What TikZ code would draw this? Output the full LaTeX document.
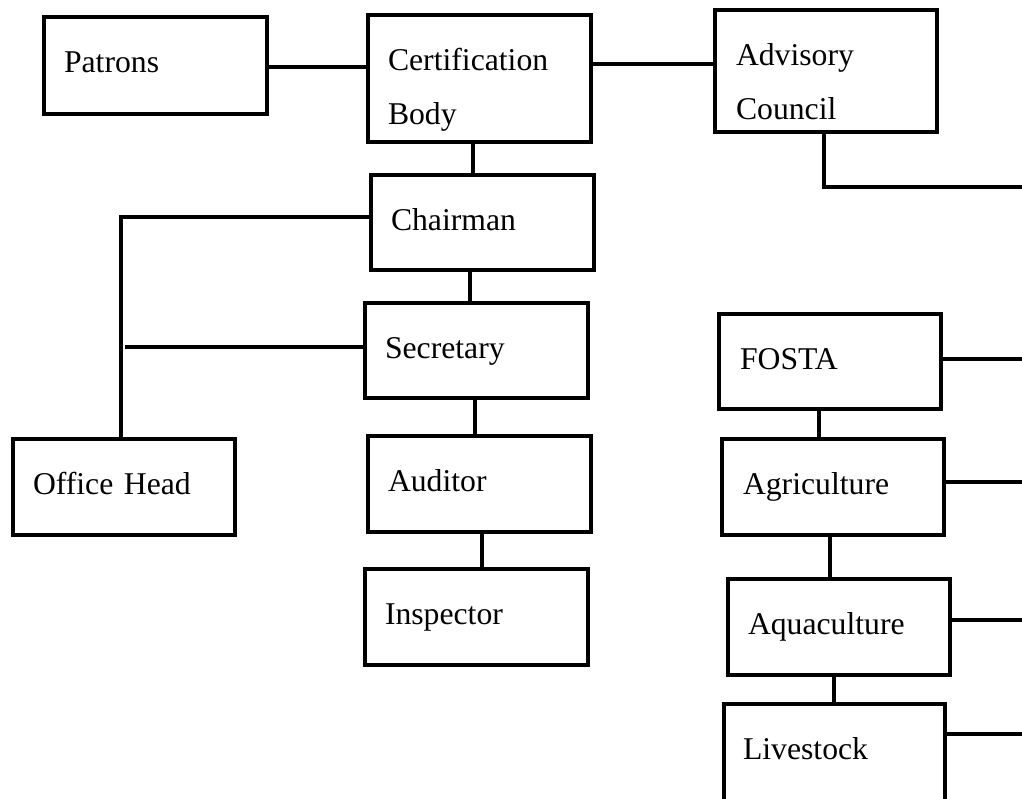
\documentclass[tikz,border=0pt]{standalone}
\usepackage{fontspec}
\setmainfont{Liberation Serif}
\usetikzlibrary{calc}

% one unit of the chart: name, left, top, width, height, text indent, label
\newcommand\orgunit[7]{%
  \pgfmathsetmacro\unitw{#4-4-2*(#6-2)}%
  \pgfmathsetmacro\unitd{#5-4-55}%
  \pgfmathsetmacro\unitx{#6-2}%
  \node[unit, inner xsep=\unitx pt, text width=\unitw pt, text depth=\unitd pt] (#1) at (#2,#3) {#7};}

\begin{document}
\begin{tikzpicture}[x=1pt, y=-1pt,
  unit/.style={draw, line width=4pt, anchor=north west, inner ysep=0pt,
    text height=55pt, align=left, font=\fontsize{31.7}{54}\selectfont},
  link/.style={line width=3.8pt}]
\useasboundingbox (0,0) rectangle (1022,798);
\clip (0,0) rectangle (1022,798);

% left and central units
\orgunit{pat}{42}{15}{227}{101}{22}{Patrons}
\orgunit{cb}{366}{13}{227}{131}{22}{Certification\\Body}
\orgunit{adv}{713}{8}{226}{126}{23}{Advisory\\Council}
\orgunit{chair}{369}{173}{227}{99}{22}{Chairman}
\orgunit{sec}{363}{301}{227}{99}{22}{Secretary}
\orgunit{oh}{11}{437}{226}{100}{22}{Office Head}
\orgunit{aud}{366}{434}{227}{100}{22}{Auditor}
\orgunit{insp}{363}{567}{227}{100}{22}{Inspector}

% sector units on the right
\orgunit{fosta}{717}{312}{226}{99}{23}{FOSTA}
\orgunit{agri}{720}{437}{226}{100}{23}{Agriculture}
\orgunit{aqua}{726}{577}{226}{100}{22}{Aquaculture}
\orgunit{live}{722}{702}{225}{120}{21}{Livestock}

% free ends of the lines running off to the right
\coordinate (advend) at (1030,187);
\coordinate (fostaend) at (1030,359);
\coordinate (agriend) at (1030,482);
\coordinate (aquaend) at (1030,620);
\coordinate (liveend) at (1030,734);
\coordinate (secend) at (125,347);

% connectors
\draw[link] (pat.east |- 0,67) -- (cb.west |- 0,67);
\draw[link] (cb.east |- 0,64) -- (adv.west |- 0,64);
\draw[link] (cb.south -| 473,0) -- (chair.north -| 473,0);
\draw[link] (chair.west |- 0,217) -| (oh.north -| 121,0);
\draw[link] (sec.west |- 0,347) -- (secend);
\draw[link] (chair.south -| 470,0) -- (sec.north -| 470,0);
\draw[link] (sec.south -| 475,0) -- (aud.north -| 475,0);
\draw[link] (aud.south -| 482,0) -- (insp.north -| 482,0);
\draw[link] (adv.south -| 824,0) |- (advend);
\draw[link] (fosta.east |- fostaend) -- (fostaend);
\draw[link] (fosta.south -| 819,0) -- (agri.north -| 819,0);
\draw[link] (agri.east |- agriend) -- (agriend);
\draw[link] (agri.south -| 830,0) -- (aqua.north -| 830,0);
\draw[link] (aqua.east |- aquaend) -- (aquaend);
\draw[link] (aqua.south -| 834,0) -- (live.north -| 834,0);
\draw[link] (live.east |- liveend) -- (liveend);
\end{tikzpicture}
\end{document}
